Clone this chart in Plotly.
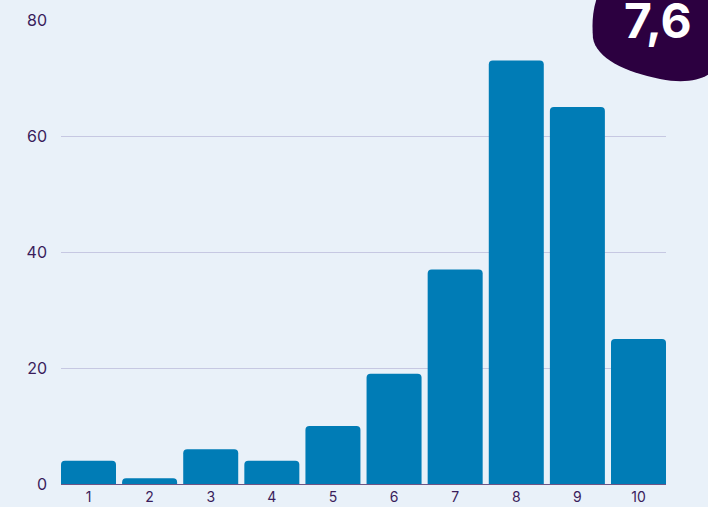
import plotly.graph_objects as go

categories = [1, 2, 3, 4, 5, 6, 7, 8, 9, 10]
tick_labels = ["1", "2", "3", "4", "5", "6", "7", "8", "9", "10"]
values = [4, 1, 6, 4, 10, 19, 37, 73, 65, 25]
badge_text = "7,6"

W, H = 708, 507
ML, MR, MT, MB = 61, 42, 20, 23
PW, PH = W - ML - MR, H - MT - MB

def px(x):
    return (x - ML) / PW

def py(y):
    return (H - MB - y) / PH

bg = "#E9F1F9"
bar_color = "#007CB6"
text_color = "#3A1D5C"
grid_color = "#C6C8E2"
blob_color = "#2C0040"

fig = go.Figure(go.Bar(
    x=categories, y=values, width=0.9, marker=dict(color=bar_color, line=dict(width=0)),
    hoverinfo="skip"))

# decorative blob (pixel points -> paper coords)
path = "M {:.4f},{:.4f}".format(px(598), py(-5))
c = [((592, 10), (592, 25), (593, 38)),
     ((596, 58), (625, 72), (660, 79)),
     ((685, 84), (702, 80), (712, 72))]
for (a, b, e) in c:
    path += " C {:.4f},{:.4f} {:.4f},{:.4f} {:.4f},{:.4f}".format(px(a[0]), py(a[1]), px(b[0]), py(b[1]), px(e[0]), py(e[1]))
path += " L {:.4f},{:.4f} L {:.4f},{:.4f} Z".format(px(712), py(-5), px(598), py(-5))

fig.add_shape(type="path", path=path, xref="paper", yref="paper",
              fillcolor=blob_color, line=dict(width=0), layer="above")
fig.add_annotation(text="<b>" + badge_text + "</b>", xref="paper", yref="paper",
                   x=px(658), y=py(0), showarrow=False,
                   font=dict(family="Inter, sans-serif", size=48, color="white"),
                   xanchor="center", yanchor="top", yshift=11)

fig.update_layout(
    width=W, height=H,
    margin=dict(l=ML, r=MR, t=MT, b=MB, autoexpand=False),
    paper_bgcolor=bg, plot_bgcolor=bg,
    barcornerradius=4,
    showlegend=False,
    font=dict(family="Inter, sans-serif", size=15, color=text_color),
    xaxis=dict(range=[0.55, 10.45], tickmode="array", tickvals=categories, ticktext=tick_labels,
               showgrid=False, zeroline=False, showline=False, ticks="", automargin=False,
               ticklabelstandoff=3,
               tickfont=dict(size=14, color=text_color), fixedrange=True),
    yaxis=dict(range=[0, 80], tickvals=[0, 20, 40, 60, 80], showgrid=True, gridcolor=grid_color,
               gridwidth=1, zeroline=True, zerolinecolor="#6E5585", zerolinewidth=1,
               showline=False, ticks="", ticklabelstandoff=13, automargin=False,
               tickfont=dict(size=16, color=text_color), fixedrange=True),
)

fig.write_html("out.html", config={"displayModeBar": False, "staticPlot": True},
               post_script="document.body.style.margin='0';document.body.style.background='%s';" % bg)
